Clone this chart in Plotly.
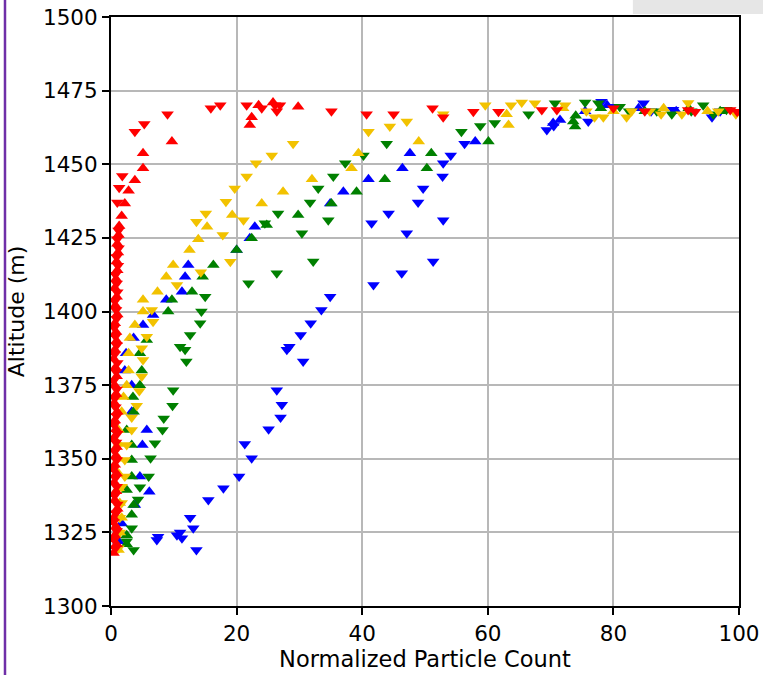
import plotly.graph_objects as go

# ---------------- data ----------------
red_up_x = [0.4,0.9,0.6,0.8,0.4,1.0,0.6,0.8,0.5,0.9,0.6,0.8,0.9,0.4,0.8,0.6,1.0,0.5,0.8,0.6,
            0.9,0.7,0.4,0.6,0.9,0.8,0.6,1.0,0.7,0.9,0.6,0.8,1.0,0.9,1.1,1.0,1.2,1.3,1.7,2.2,
            2.8,3.8,5.1,5.1,9.7,22.1,22.4,29.8,23.5,25.8]
red_up_y = [1318,1321,1324,1327,1330,1333,1336,1339,1342,1345,1348,1351,1354,1357,1360,1363,1366,1369,1372,1375,
            1378,1381,1384,1387,1390,1393,1396,1399,1402,1405,1408,1411,1414,1417,1420,1423,1426,1429,1432.4,1436.7,
            1441,1444.6,1448.6,1453.7,1457.7,1463.3,1466,1469.5,1470,1471]

red_dn_x = [0.7,0.5,0.9,0.4,0.8,1.0,0.6,0.9,0.7,0.4,0.9,0.6,0.8,1.0,0.5,0.9,0.7,0.6,0.9,0.4,
            0.8,1.0,0.6,0.9,0.7,0.5,0.9,0.8,0.6,1.0,0.9,0.7,1.1,0.9,1.2,1.0,1.2,1.0,1.3,1.8,
            3.8,5.3,9.0,15.9,17.4,21.6,24.0,26.1,26.4,26.9,35.1,40.7,45.0,51.2,52.9,57.7,61.7,68.6,71.0,80.0,
            85.0,91.9,93.0,98.6,99.7]
red_dn_y = [1319.5,1322.5,1325.5,1328.5,1331.5,1334.5,1337.5,1340.5,1343.5,1346.5,1349.5,1352.5,1355.5,1358.5,1361.5,1364.5,1367.5,1370.5,1373.5,1376.5,
            1379.5,1382.5,1385.5,1388.5,1391.5,1394.5,1397.5,1400.5,1403.5,1406.5,1409.5,1412.5,1415.5,1418.5,1421.5,1424.5,1427.5,1437,1442,1446,
            1461,1463.7,1467,1469,1470,1470,1469,1470,1468,1470,1468,1467,1467,1469,1466,1467.8,1467.8,1468.4,1468.4,1469,
            1468,1468.4,1467.8,1468.4,1467.8]

yel_up_x = [1.2,1.4,1.7,1.4,1.2,1.2,1.2,1.2,1.2,1.7,2.0,2.5,2.8,2.8,3.0,3.8,5.1,5.1,7.4,8.8,
            9.9,12.5,13.9,15.3,19.3,24.0,27.4,32.0,38.3,39.4,49.0,63.3,63.0,72.0,80.0,88.0,95.0]
yel_up_y = [1319,1325,1330,1335,1340,1345,1350,1355,1359.8,1366,1371,1375,1380,1385.8,1391,1395.4,1400,1404,1406.7,1411.8,
            1415.8,1420.9,1424.5,1428.8,1432.8,1436.7,1440.7,1444.9,1448.6,1453.7,1457.7,1463.3,1467,1469,1468,1469,1468]

yel_dn_x = [1.2,1.4,1.4,1.7,1.7,2.2,2.2,2.5,3.3,3.3,4.1,4.5,4.9,5.1,4.9,5.7,6.7,6.5,10.5,14.3,
            19.0,17.8,13.6,15.1,21.1,18.3,19.7,21.6,23.1,25.6,29.0,41.0,44.4,47.1,52.9,59.6,63.7,65.4,67.5,72.3,
            75.7,77.0,78.4,82.1,82.9,85.8,87.6,90.9,91.9,96.7,99.5]
yel_dn_y = [1319.6,1325,1330,1335,1340.5,1344,1349.6,1354.7,1359.8,1364,1368,1373,1377.9,1383.5,1387.5,1391.4,1396.5,1400.5,1409,1413.3,
            1416.9,1426,1430.5,1433.3,1431,1437.3,1441.8,1445.8,1450.3,1453,1457,1461,1462.8,1464.5,1467,1470,1470,1471,1470.7,1470,
            1468,1466,1466,1466,1468,1468,1467,1467,1470.8,1468,1467]

grn_up_x = [2.5,2.5,3.3,3.6,2.5,3.3,3.3,3.3,2.5,3.6,3.5,4.6,4.9,4.6,5.7,9.1,9.7,12.9,14.6,16.3,
            20.0,22.4,24.8,29.8,35.1,39.1,43.6,50.3,51.0,60.1,73.9,73.6,74.0,78.0,85.0,92.0,97.0]
grn_up_y = [1321,1324,1331,1334.3,1339.4,1344,1349.6,1354.7,1359.8,1366,1371,1375,1380,1385.8,1390.3,1400,1404,1406.7,1411.8,1415.8,
            1420.9,1424.9,1429.4,1432.8,1436.7,1440.7,1444.9,1448.6,1453.7,1457.7,1462.8,1464.5,1466.5,1469,1468,1469,1468]

grn_dn_x = [3.6,2.5,3.3,4.3,4.6,6.0,6.3,7.0,8.2,8.4,9.8,9.9,12.0,11.8,11.0,12.6,14.2,14.4,15.0,21.9,
            26.4,32.2,30.4,24.5,34.6,26.6,31.7,33.0,35.4,37.3,40.2,43.9,55.8,58.8,61.1,66.5,70.7,75.5,77.6,81.0,
            82.5,86.9,89.3,92.4,94.3,95.9,98.0]
grn_dn_y = [1319,1322,1326.4,1336.2,1340.3,1344,1350.2,1355.3,1359.8,1363.7,1368,1373.3,1383,1387,1388,1392,1396,1400,1405,1409.6,
            1413,1417,1426.6,1430,1431,1433.3,1437,1441.8,1445.8,1450.3,1453,1457,1461,1463,1464,1467,1470.7,1471,1470.7,1469.5,
            1468,1468,1467,1468,1470,1467,1468.5]

blu_up_x = [1.2,1.7,3.8,6.1,4.6,5.0,5.7,3.3,3.3,2.2,2.4,3.6,5.1,6.7,8.8,11.3,11.8,12.3,20.0,22.1,
            22.9,34.9,37.0,41.0,46.4,47.6,58.0,70.4,71.5,75.5,79.0,84.0,90.0]
blu_up_y = [1322,1328,1334.3,1338.8,1344,1354.7,1359.8,1366,1375,1380,1385.8,1391,1395.4,1398.8,1404,1406.7,1411.8,1415.8,1420.9,1424.9,
            1428.8,1436.7,1440.7,1444.9,1448.6,1453.7,1457.7,1464,1465,1468,1470,1469,1468]

blu_dn_x = [13.6,7.3,7.5,11.3,11.0,10.5,13.1,12.6,15.5,17.9,20.4,22.4,21.3,25.1,27.0,27.2,26.4,30.6,28.0,28.4,
            30.2,31.8,33.5,34.9,41.8,46.3,51.3,47.1,41.5,52.9,44.2,48.9,49.7,52.8,52.9,54.1,56.3,69.4,70.5,76.0,
            78.1,80.0,84.8,86.0,89.5,95.7,97.0]
blu_dn_y = [1319,1322.4,1323.5,1323,1325,1324,1326.4,1330,1336,1340,1344,1350.2,1355,1360,1364,1368.3,1373.3,1383,1387,1388,
            1392,1396,1400.5,1405,1409,1413,1417,1426.6,1430,1431,1433.3,1437,1441.8,1445.8,1450.3,1453,1457,1461.6,1463,1464.5,
            1471.2,1469.5,1470.7,1468,1468.5,1466,1468]

x_ticks = [0, 20, 40, 60, 80, 100]
y_ticks = [1300, 1325, 1350, 1375, 1400, 1425, 1450, 1475, 1500]

RED, YEL, GRN, BLU = "#ff0000", "#f2c200", "#008000", "#0000ff"

series = [
    (blu_dn_x, blu_dn_y, BLU, "triangle-down"),
    (blu_up_x, blu_up_y, BLU, "triangle-up"),
    (grn_dn_x, grn_dn_y, GRN, "triangle-down"),
    (grn_up_x, grn_up_y, GRN, "triangle-up"),
    (yel_dn_x, yel_dn_y, YEL, "triangle-down"),
    (yel_up_x, yel_up_y, YEL, "triangle-up"),
    (red_dn_x, red_dn_y, RED, "triangle-down"),
    (red_up_x, red_up_y, RED, "triangle-up"),
]

fig = go.Figure()
for xs, ys, col, sym in series:
    fig.add_trace(go.Scatter(
        x=xs, y=ys, mode="markers",
        marker=dict(symbol=sym, size=11, color=col, line=dict(width=0)),
        showlegend=False, cliponaxis=True))

FONT = "DejaVu Sans, Arial, sans-serif"
fig.update_layout(
    width=763, height=675,
    margin=dict(l=111, r=24, t=17, b=69, autoexpand=False),
    paper_bgcolor="white", plot_bgcolor="white",
    font=dict(family=FONT, color="black", size=21),
    xaxis=dict(range=[0, 100], tickvals=x_ticks, ticks="outside", ticklen=7, tickwidth=1.5,
               tickcolor="black", showline=True, linecolor="black", linewidth=2, mirror=True,
               showgrid=True, gridcolor="#b8b8b8", gridwidth=2, zeroline=False, automargin=False,
               tickfont=dict(size=21.5),
               title=dict(text="Normalized Particle Count", font=dict(size=22.5), standoff=6)),
    yaxis=dict(range=[1300, 1500], tickvals=y_ticks, ticks="outside", ticklen=7, tickwidth=1.5,
               tickcolor="black", showline=True, linecolor="black", linewidth=2, mirror=True,
               showgrid=True, gridcolor="#b8b8b8", gridwidth=2, zeroline=False, automargin=False,
               tickfont=dict(size=21.5),
               title=dict(text="Altitude (m)", font=dict(size=22), standoff=12)),
    shapes=[
        dict(type="line", xref="paper", yref="paper", x0=-0.1688, x1=-0.1688, y0=-0.12, y1=1.03,
             line=dict(color="#6f2fa8", width=2.5)),
        dict(type="rect", xref="paper", yref="paper", x0=0.831, x1=1.04, y0=1.005, y1=1.03,
             fillcolor="#e6e6e6", line=dict(width=0), layer="below"),
    ],
)

fig.write_html("out.html", config={"displayModeBar": False},
               post_script="document.body.style.margin='0px';document.body.style.padding='0px';")
